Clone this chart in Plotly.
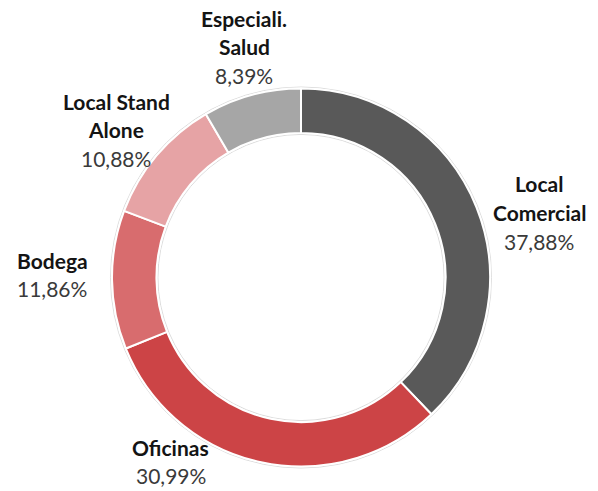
import plotly.graph_objects as go

# Distribución por tipo de activo
categories = ["Local Comercial", "Oficinas", "Bodega", "Local Stand Alone", "Especiali. Salud"]
shares = [37.88, 30.99, 11.86, 10.88, 8.39]
label_lines = [["Local", "Comercial"], ["Oficinas"], ["Bodega"], ["Local Stand", "Alone"], ["Especiali.", "Salud"]]
colors = ["#595959", "#cc4446", "#d86c6e", "#e6a3a5", "#a6a6a6"]

W, H = 598, 491
CX, CY, R = 301, 277.5, 189  # donut centre and outer radius, px
HOLE = 0.765

# label block anchors (centre x, first-line centre y), px
label_pos = [(539, 184), (171, 447), (52, 260), (116, 101), (244, 18)]
PITCH = 28.7
FONT = "Lato, 'Open Sans', sans-serif"
FS = 21


def px_x(x):
    return x / W


def px_y(y):
    return 1 - y / H


fig = go.Figure(
    go.Pie(
        labels=categories,
        values=shares,
        hole=HOLE,
        sort=False,
        direction="clockwise",
        rotation=0,
        marker=dict(colors=colors, line=dict(color="white", width=2)),
        textinfo="none",
        hoverinfo="label+percent",
        domain=dict(x=[px_x(CX - R), px_x(CX + R)], y=[px_y(CY + R), px_y(CY - R)]),
        showlegend=False,
    )
)

annotations = []
for lines, v, (x, y0) in zip(label_lines, shares, label_pos):
    for i, ln in enumerate(lines):
        annotations.append(dict(
            x=px_x(x), y=px_y(y0 + i * PITCH), xref="paper", yref="paper",
            text=f"<b>{ln}</b>", showarrow=False, xanchor="center", yanchor="middle",
            font=dict(family=FONT, size=FS, color="#141414"),
        ))
    annotations.append(dict(
        x=px_x(x), y=px_y(y0 + len(lines) * PITCH), xref="paper", yref="paper",
        text=f"{v:.2f}%".replace(".", ","), showarrow=False, xanchor="center", yanchor="middle",
        font=dict(family=FONT, size=FS, color="#3a3a3a"),
    ))

# faint outline around the ring edges
shapes = []
for rr in (R + 1.5, R * HOLE - 1.5):
    shapes.append(dict(
        type="circle", xref="paper", yref="paper",
        x0=px_x(CX - rr), x1=px_x(CX + rr), y0=px_y(CY + rr), y1=px_y(CY - rr),
        line=dict(color="#dcdcdc", width=1), layer="below",
    ))

fig.update_layout(
    width=W, height=H,
    margin=dict(l=0, r=0, t=0, b=0),
    paper_bgcolor="white", plot_bgcolor="white",
    annotations=annotations,
    shapes=shapes,
)

fig.write_html("out.html")
